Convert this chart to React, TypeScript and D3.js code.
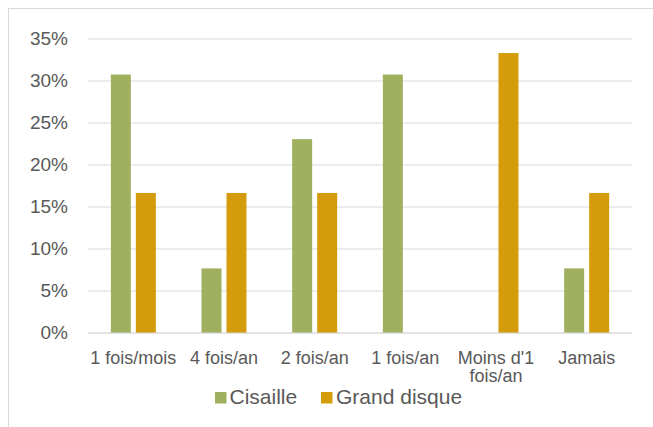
import React from 'react';
import * as d3 from 'd3';

const categories = ['1 fois/mois', '4 fois/an', '2 fois/an', '1 fois/an', "Moins d'1|fois/an", 'Jamais'];
const cisaille = [0.3077, 0.0769, 0.2308, 0.3077, 0, 0.0769];
const grandDisque = [0.1667, 0.1667, 0.1667, 0, 0.3333, 0.1667];
const yTicks = [0, 0.05, 0.1, 0.15, 0.2, 0.25, 0.3, 0.35];

const GREEN = '#9FB05E';
const GOLD = '#D49B0B';
const TEXT = '#595959';
const FONT = '"Liberation Sans", Arial, sans-serif';

const App: React.FC = () => {
  const width = 653;
  const height = 427;
  const left = 88;
  const right = 632;
  const top = 39;
  const bottom = 333;

  const x = d3.scaleBand<string>().domain(categories).range([left, right]);
  const y = d3.scaleLinear().domain([0, 0.35]).range([bottom, top]);
  const barW = 20;
  const gap = 5;

  return (
    <svg width={width} height={height} style={{ position: 'absolute', left: 0, top: 0 }}>
      <rect x={8.5} y={8.5} width={width + 10} height={height + 10} fill="#fff" stroke="#d9d9d9" />
      {yTicks.map(t => (
        <g key={t}>
          <line x1={left} x2={right} y1={y(t)} y2={y(t)} stroke="#d9d9d9" strokeWidth={1} />
          <text x={68} y={y(t) + 5.5} textAnchor="end" fontFamily={FONT} fontSize={19} fill={TEXT}>
            {d3.format('.0%')(t)}
          </text>
        </g>
      ))}
      {categories.map((c, i) => {
        const cx = (x(c) ?? 0) + x.bandwidth() / 2;
        return (
          <g key={c}>
            {cisaille[i] > 0 && (
              <rect x={cx - gap / 2 - barW} y={y(cisaille[i])} width={barW} height={bottom - y(cisaille[i])} fill={GREEN} />
            )}
            {grandDisque[i] > 0 && (
              <rect x={cx + gap / 2} y={y(grandDisque[i])} width={barW} height={bottom - y(grandDisque[i])} fill={GOLD} />
            )}
            <text x={cx} y={363.5} textAnchor="middle" fontFamily={FONT} fontSize={18} fill={TEXT}>
              {c.split('|').map((line, j) => (
                <tspan key={j} x={cx} dy={j === 0 ? 0 : 18.5}>{line}</tspan>
              ))}
            </text>
          </g>
        );
      })}
      <line x1={left} x2={right} y1={bottom} y2={bottom} stroke="#d9d9d9" strokeWidth={1} />
      <g fontFamily={FONT} fontSize={21} fill={TEXT}>
        <rect x={215} y={392} width={11.5} height={11.5} fill={GREEN} />
        <text x={229.5} y={404}>Cisaille</text>
        <rect x={321} y={392} width={11.5} height={11.5} fill={GOLD} />
        <text x={336} y={404}>Grand disque</text>
      </g>
    </svg>
  );
};

export default App;
